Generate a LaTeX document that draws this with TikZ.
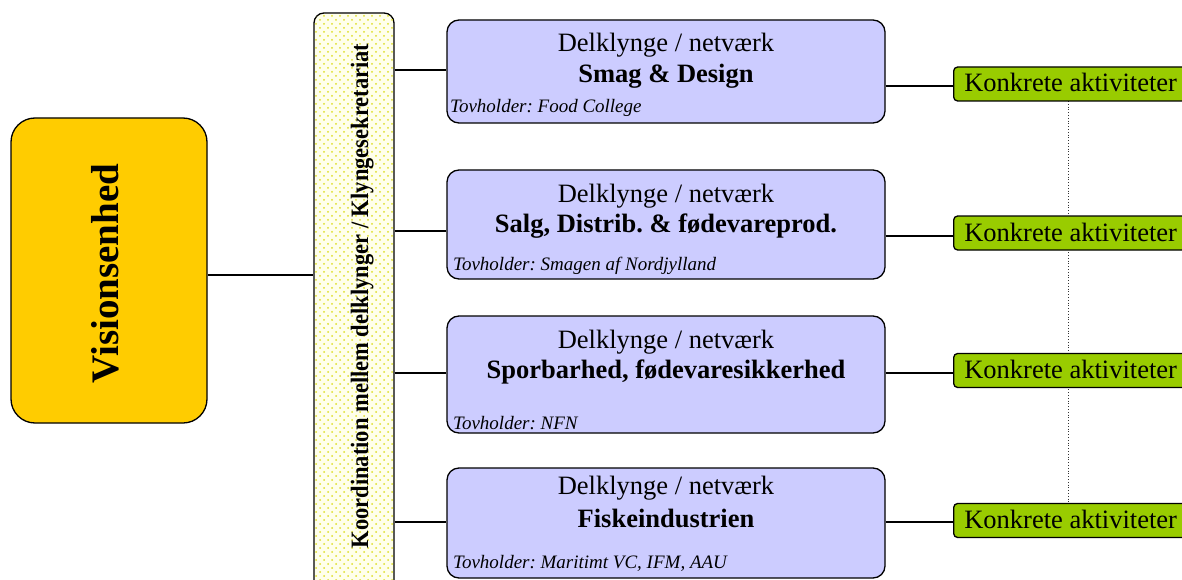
\documentclass[tikz,border=0pt]{standalone}
\usepackage{fontspec}
\setmainfont{Liberation Serif}
\usetikzlibrary{patterns}
\definecolor{visyel}{HTML}{FFCC00}
\definecolor{delblue}{HTML}{CCCCFF}
\definecolor{actgreen}{HTML}{99CC00}
\definecolor{dotyel}{RGB}{222,222,40}
\pgfdeclarepatternformonly{sparsedots}{\pgfqpoint{-1pt}{-1pt}}{\pgfqpoint{8pt}{8pt}}{\pgfqpoint{8pt}{8pt}}{%
  \pgfpathcircle{\pgfqpoint{0pt}{0pt}}{1pt}%
  \pgfpathcircle{\pgfqpoint{4pt}{4pt}}{1pt}%
  \pgfusepath{fill}}
\frenchspacing
\begin{document}
\begin{tikzpicture}[x=1pt,y=-1pt,
  conn/.style={line width=1.4pt},
  dotconn/.style={line width=0.8pt, dotted, black!80},
  visbox/.style={draw, line width=1.3pt, fill=visyel, rounded corners=24pt,
    minimum width=196pt, minimum height=305pt, inner sep=0pt},
  barbox/.style={draw, line width=1.3pt, fill={rgb,255:red,255;green,255;blue,235}, rounded corners=10pt,
    minimum width=80pt, minimum height=590pt, inner sep=0pt,
    postaction={pattern=sparsedots, pattern color=dotyel}},
  delbox/.style={draw, line width=1.3pt, fill=delblue, rounded corners=12pt,
    minimum width=438pt, inner sep=0pt},
  actbox/.style={draw, line width=1.3pt, fill=actgreen, rounded corners=4pt,
    minimum width=234pt, minimum height=34pt, inner sep=0pt, anchor=west,
    text height=22pt, text depth=6pt, font=\fontsize{26.5}{30}\selectfont},
  deltitle/.style={anchor=base, inner sep=0pt, font=\fontsize{26.5}{30}\selectfont},
  delname/.style={anchor=base, inner sep=0pt, font=\fontsize{26.5}{30}\selectfont\bfseries},
  tovtxt/.style={anchor=base west, inner sep=0pt, font=\fontsize{19}{22}\selectfont\itshape}
]
\useasboundingbox (0,0) rectangle (1182,580);
\clip (0,0) rectangle (1182,580);

% left box
\node[visbox] (vis) at (109,270.5) {};
\node[rotate=90, anchor=base, inner sep=0pt, font=\fontsize{39}{44}\selectfont\bfseries]
  (vistxt) at (118,273.5) {Visionsenhed};

% coordination bar
\node[barbox] (bar) at (354,308) {};
\node[rotate=90, anchor=base, inner sep=0pt, font=\fontsize{25}{30}\selectfont\bfseries]
  (bartxt) at (368,296) {\scalebox{0.9}[1]{Koordination mellem delklynger / Klyngesekretariat}};

% dotted vertical line behind green boxes
\coordinate (dtop) at (1068,101);
\coordinate (dbot) at (1068,503);
\draw[dotconn] (dtop) -- (dbot);

% blue boxes
\node[delbox, minimum height=103pt] (b1) at (666,71.5) {};
\node[delbox, minimum height=109pt] (b2) at (666,224.5) {};
\node[delbox, minimum height=117pt] (b3) at (666,374.5) {};
\node[delbox, minimum height=110pt] (b4) at (666,523) {};

\node[deltitle] (t1) at (666,52) {Delklynge / netværk};
\node[delname] (n1) at (666,83) {Smag \& Design};
\node[tovtxt] (v1) at (450,113) {Tovholder: Food College};

\node[deltitle] (t2) at (666,202) {Delklynge / netværk};
\node[delname] (n2) at (666,232) {Salg, Distrib. \& fødevareprod.};
\node[tovtxt] (v2) at (453,270) {Tovholder: Smagen af Nordjylland};

\node[deltitle] (t3) at (666,348) {Delklynge / netværk};
\node[delname] (n3) at (666,378) {Sporbarhed, fødevaresikkerhed};
\node[tovtxt] (v3) at (453,429) {Tovholder: NFN};

\node[deltitle] (t4) at (666,494) {Delklynge / netværk};
\node[delname] (n4) at (666,527) {Fiskeindustrien};
\node[tovtxt] (v4) at (453,568) {Tovholder: Maritimt VC, IFM, AAU};

% green boxes
\node[actbox] (g1) at (953,84) {Konkrete aktiviteter};
\node[actbox] (g2) at (953,233) {Konkrete aktiviteter};
\node[actbox] (g3) at (953,370.5) {Konkrete aktiviteter};
\node[actbox] (g4) at (953,520.5) {Konkrete aktiviteter};

% connectors
\draw[conn] (vis.east |- 0,275) -- (bar.west |- 0,275);
\draw[conn] (bar.east |- 0,70) -- (b1.west |- 0,70);
\draw[conn] (bar.east |- 0,231) -- (b2.west |- 0,231);
\draw[conn] (bar.east |- 0,373) -- (b3.west |- 0,373);
\draw[conn] (bar.east |- 0,522) -- (b4.west |- 0,522);
\draw[conn] (b1.east |- 0,86) -- (g1.west |- 0,86);
\draw[conn] (b2.east |- 0,236) -- (g2.west |- 0,236);
\draw[conn] (b3.east |- 0,373) -- (g3.west |- 0,373);
\draw[conn] (b4.east |- 0,522) -- (g4.west |- 0,522);
\end{tikzpicture}
\end{document}
